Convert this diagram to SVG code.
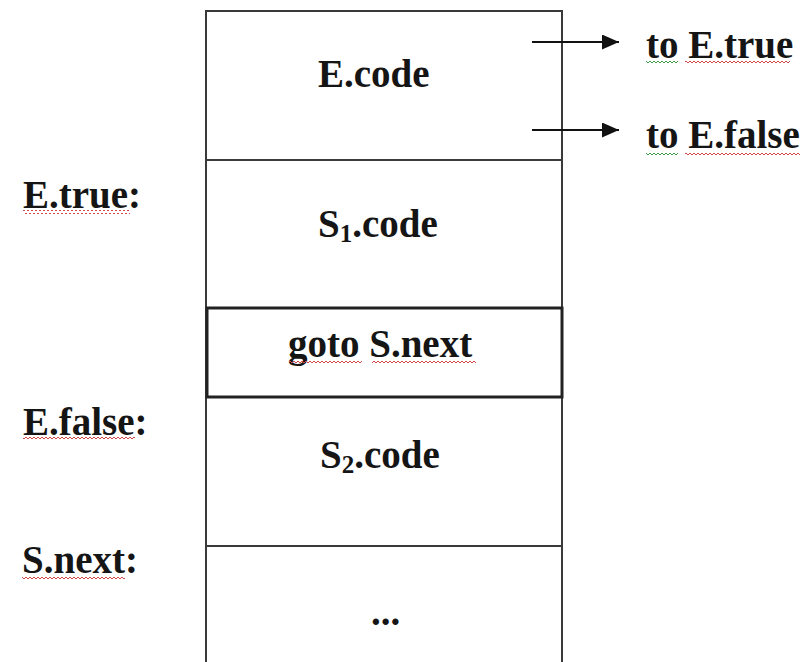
<svg xmlns="http://www.w3.org/2000/svg" width="808" height="662" viewBox="0 0 808 662">
<style>
.t{font-family:"Liberation Serif","Times New Roman",serif;font-weight:bold;font-size:39px;fill:#151515}
.sub{font-size:25px}
.cell{fill:none;stroke:#3a3a3a;stroke-width:2}
.thick{fill:none;stroke:#222;stroke-width:3}
.arr{stroke:#111;stroke-width:2;fill:none}
</style>
<defs>
<pattern id="wr" patternUnits="userSpaceOnUse" width="4" height="4"><path d="M0 3 L2 1 L4 3" fill="none" stroke="#d04848" stroke-width="1"/></pattern>
<pattern id="wg" patternUnits="userSpaceOnUse" width="4" height="4"><path d="M0 3 L2 1 L4 3" fill="none" stroke="#3f9a4a" stroke-width="1"/></pattern>
<marker id="ah" viewBox="0 0 17 15" refX="17" refY="7.5" markerWidth="17" markerHeight="15" markerUnits="userSpaceOnUse" orient="auto"><path d="M0 0 L17 7.5 L0 15 Z" fill="#111"/></marker>
</defs>
<rect width="808" height="662" fill="#fff"/>
<g id="outer">
<path class="cell" d="M206 663 L206 11 L562 11 L562 663"/>
</g>
<g id="ecode">
<line class="cell" x1="206" y1="160" x2="562" y2="160"/>
<text class="t" x="318" y="87">E.code</text>
</g>
<g id="s1code">
<text class="t" x="318" y="237">S<tspan class="sub" dy="5">1</tspan><tspan dy="-5">.code</tspan></text>
</g>
<g id="goto">
<rect class="thick" x="207" y="308" width="355" height="89"/>
<text class="t" x="288" y="357">goto S.next</text>
<rect x="289" y="361" width="73" height="4" fill="url(#wr)"/>
<rect x="372" y="361" width="104" height="4" fill="url(#wr)"/>
</g>
<g id="s2code">
<line class="cell" x1="206" y1="546" x2="562" y2="546"/>
<text class="t" x="320" y="468">S<tspan class="sub" dy="5">2</tspan><tspan dy="-5">.code</tspan></text>
</g>
<g id="rest">
<text class="t" x="371" y="625">...</text>
</g>
<g id="lbl-etrue">
<text class="t" x="23" y="208">E.true:</text>
<rect x="23" y="210" width="107" height="4" fill="url(#wr)"/>
</g>
<g id="lbl-efalse">
<text class="t" x="23" y="435">E.false:</text>
<rect x="23" y="437" width="112" height="4" fill="url(#wr)"/>
</g>
<g id="lbl-snext">
<text class="t" x="22" y="573">S.next:</text>
<rect x="22" y="575" width="103" height="4" fill="url(#wr)"/>
</g>
<g id="to-etrue">
<text class="t" x="646" y="58">to E.true</text>
<rect x="646" y="61" width="32" height="4" fill="url(#wg)"/>
<rect x="685" y="61" width="105" height="4" fill="url(#wr)"/>
</g>
<g id="to-efalse">
<text class="t" x="646" y="148">to E.false</text>
<rect x="646" y="151" width="32" height="4" fill="url(#wg)"/>
<rect x="685" y="151" width="115" height="4" fill="url(#wr)"/>
</g>
<g id="connectors">
<line class="arr" x1="532" y1="42" x2="619" y2="42" marker-end="url(#ah)"/>
<line class="arr" x1="532" y1="130" x2="619" y2="130" marker-end="url(#ah)"/>
</g>
</svg>
